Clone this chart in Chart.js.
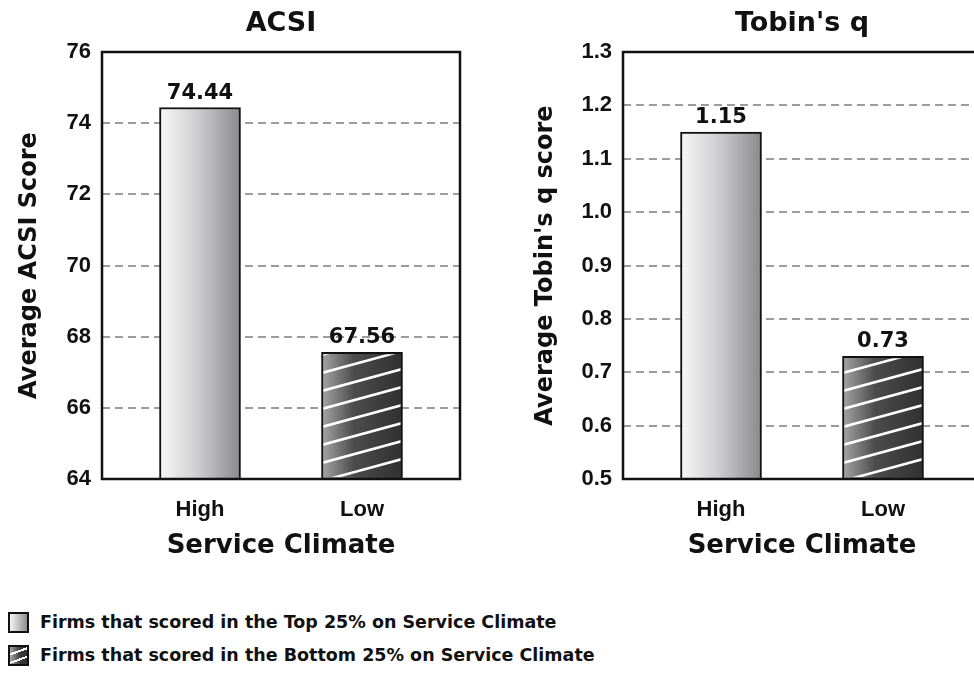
<!DOCTYPE html>
<html>
<head>
<meta charset="utf-8">
<script src="https://cdn.jsdelivr.net/npm/chart.js@4/dist/chart.umd.min.js"></script>
<style>
  body { margin: 0; background: #fff; width: 974px; height: 673px; overflow: hidden; position: relative; }
  #left { position: absolute; left: 0; top: 0; }
  #right { position: absolute; left: 487px; top: 0; }
  .legend { position: absolute; left: 8px; font: bold 17.5px "DejaVu Sans"; color: #111; white-space: nowrap; }
  .legend .sw { display: inline-block; width: 17px; height: 17px; border: 2px solid #111; vertical-align: middle; margin-right: 11px; }
  .legend span { vertical-align: middle; }
  #lg1 { top: 611px; }
  #lg2 { top: 644px; }
  .sw.top { background: linear-gradient(to right, #f6f6f6, #8e8e8e); }
  .sw.bottom {
    background:
      repeating-linear-gradient(160deg, transparent 0 6px, #fff 6px 8px),
      linear-gradient(to right, #a8a8a8, #3a3a3a 60%, #333);
  }
</style>
</head>
<body>
<canvas id="left" width="487" height="580"></canvas>
<canvas id="right" width="520" height="580"></canvas>
<div class="legend" id="lg1"><div class="sw top"></div><span>Firms that scored in the Top 25% on Service Climate</span></div>
<div class="legend" id="lg2"><div class="sw bottom"></div><span>Firms that scored in the Bottom 25% on Service Climate</span></div>
<script>
// data
const categories = ['High', 'Low'];
const acsiValues = [74.44, 67.56];
const tobinValues = [1.15, 0.73];
const acsiTicks = [64, 66, 68, 70, 72, 74, 76];
const tobinTicks = [0.5, 0.6, 0.7, 0.8, 0.9, 1.0, 1.1, 1.2, 1.3];

const BAR_W = 81;

function barFill(ctx) {
  const chart = ctx.chart;
  if (!chart.chartArea || ctx.dataIndex === undefined) return '#ccc';
  const cx = chart.scales.x.getPixelForValue(ctx.dataIndex);
  const g = chart.ctx.createLinearGradient(cx - BAR_W / 2, 0, cx + BAR_W / 2, 0);
  if (ctx.dataIndex === 0) {
    g.addColorStop(0, '#f7f7f7');
    g.addColorStop(0.45, '#d0d0d2');
    g.addColorStop(1, '#8a8a8c');
  } else {
    g.addColorStop(0, '#a6a6a6');
    g.addColorStop(0.4, '#4c4c4c');
    g.addColorStop(1, '#303030');
  }
  return g;
}

// hatch on the low bar, box border, chart title and value labels
const decor = {
  id: 'decor',
  afterDatasetsDraw(chart, args, opts) {
    const c = chart.ctx;
    const a = chart.chartArea;
    const meta = chart.getDatasetMeta(0);
    const low = meta.data[1];
    if (low) {
      const l = low.x - low.width / 2, r = low.x + low.width / 2;
      const bottom = Math.min(low.base, a.bottom);
      c.save();
      c.beginPath();
      c.rect(l + 2, low.y + 2, r - l - 4, bottom - low.y - 4);
      c.clip();
      c.strokeStyle = '#fff';
      c.lineWidth = 2.5;
      for (let y = bottom + 2; y > low.y - 40; y -= 18) {
        c.beginPath();
        c.moveTo(l, y);
        c.lineTo(r, y - 22);
        c.stroke();
      }
      c.restore();
    }
    c.save();
    c.strokeStyle = '#111';
    c.lineWidth = 2.5;
    c.strokeRect(a.left, a.top, a.right - a.left, a.bottom - a.top);
    c.fillStyle = '#111';
    c.textAlign = 'center';
    c.font = 'bold 27px "DejaVu Sans"';
    c.textBaseline = 'middle';
    c.fillText(opts.title, (a.left + a.right) / 2, 24);
    c.font = 'bold 21px "DejaVu Sans"';
    c.textBaseline = 'alphabetic';
    meta.data.forEach((el, i) => {
      c.fillText(opts.fmt(chart.data.datasets[0].data[i].y), el.x, el.y - 9);
    });
    c.restore();
  }
};

function makeChart(id, title, yTitle, values, ticks, digits, yWidth, padRight, yTitlePad) {
  return new Chart(document.getElementById(id), {
    type: 'bar',
    data: {
      datasets: [{
        data: categories.map((c, i) => ({ x: i, y: values[i] })),
        backgroundColor: barFill,
        borderColor: '#111',
        borderWidth: 2,
        borderSkipped: false,
        barThickness: BAR_W
      }]
    },
    options: {
      responsive: false,
      animation: false,
      layout: { padding: { left: 0, right: padRight, top: 52, bottom: 0 } },
      plugins: {
        legend: { display: false },
        tooltip: { enabled: false },
        title: { display: false },
        decor: { title: title, fmt: v => v.toFixed(2) }
      },
      scales: {
        x: {
          type: 'linear',
          offset: false,
          min: -0.605,
          max: 1.605,
          afterBuildTicks: s => { s.ticks = categories.map((c, i) => ({ value: i })); },
          afterFit: s => { s.height = 101; },
          grid: { display: false },
          border: { display: false },
          ticks: {
            callback: v => categories[v],
            color: '#111',
            padding: 10,
            autoSkip: false,
            font: { family: 'Liberation Sans', weight: 'bold', size: 22 }
          },
          title: { display: true, text: 'Service Climate', color: '#111', font: { family: 'DejaVu Sans', weight: 'bold', size: 26 }, padding: { top: 0, bottom: 18 } }
        },
        y: {
          beginAtZero: false,
          min: ticks[0],
          max: ticks[ticks.length - 1],
          afterBuildTicks: s => { s.ticks = ticks.map(v => ({ value: v })); },
          afterFit: s => { s.width = yWidth; },
          grid: { color: '#9c9c9c', lineWidth: 2, drawTicks: false },
          border: { display: false, dash: [8, 5] },
          ticks: {
            callback: v => v.toFixed(digits),
            color: '#111',
            padding: 11,
            font: { family: 'Liberation Sans', weight: 'bold', size: 22 }
          },
          title: { display: true, text: yTitle, color: '#111', font: { family: 'DejaVu Sans', weight: 'bold', size: 24 }, padding: { top: yTitlePad, bottom: 0 } }
        }
      }
    },
    plugins: [decor]
  });
}

makeChart('left', 'ACSI', 'Average ACSI Score', acsiValues, acsiTicks, 0, 102, 27, 15);
makeChart('right', "Tobin's q", "Average Tobin's q score", tobinValues, tobinTicks, 1, 136, 26, 44);
</script>
</body>
</html>
